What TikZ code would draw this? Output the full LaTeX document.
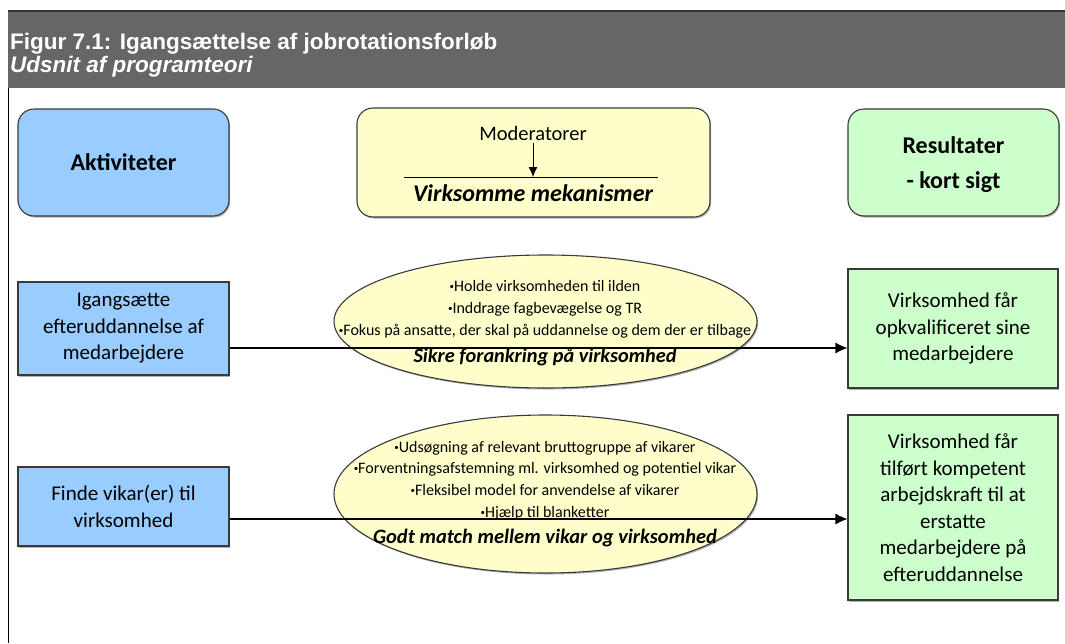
\documentclass[tikz,border=0pt]{standalone}
\usepackage{fontspec}
\setmainfont{Carlito}
\newfontfamily\hdrfont{Liberation Sans}
\usetikzlibrary{arrows.meta,shapes.geometric,shadows}
\definecolor{hdrgray}{HTML}{666666}
\definecolor{hdrline}{HTML}{333333}
\definecolor{actblue}{HTML}{99CCFF}
\definecolor{modyel}{HTML}{FFFFCC}
\definecolor{resgreen}{HTML}{CCFFCC}
\definecolor{edge}{HTML}{3A3A3A}
\tikzset{
  shad/.style={drop shadow={shadow xshift=1.2pt,shadow yshift=-1.5pt,opacity=0.3,fill=black}},
  topbox/.style={draw=edge,line width=1.1pt,rounded corners=16pt,inner sep=0pt,shad},
  rowbox/.style={draw=edge,line width=1.1pt,inner sep=0pt,shad},
  mechell/.style={ellipse,draw=edge,line width=1.1pt,fill=modyel,inner sep=0pt,shad},
  boxtxt/.style={align=center,font=\fontsize{21}{26.5}\selectfont},
  bulltxt/.style={align=center,font=\fontsize{16}{22}\selectfont},
  mechtitle/.style={font=\bfseries\itshape\fontsize{20.3}{24}\selectfont},
  arr/.style={line width=1.1pt,-{Latex[length=12pt,width=11pt]}},
}
\newcommand{\bul}{{\fontsize{9}{9}\selectfont\raisebox{2pt}{•}}}
\begin{document}
\begin{tikzpicture}[x=1pt,y=-1pt]
\useasboundingbox (0,0) rectangle (1065,643);
% header band
\fill[hdrgray] (8,11) rectangle (1065,88);
\draw[hdrline,line width=1.2pt] (8,11) -- (1065,11);
\draw[black,line width=0.8pt] (8,88) -- (8,643);
\node[anchor=base west,inner sep=0pt,text=white,font=\hdrfont\bfseries\fontsize{22.5}{26}\selectfont] (ttl) at (10,49) {Figur 7.1: Igangsættelse af jobrotationsforløb};
\node[anchor=base west,inner sep=0pt,text=white,font=\hdrfont\bfseries\itshape\fontsize{22.5}{26}\selectfont] (sub) at (10,72) {Udsnit af programteori};
% top boxes
\node[topbox,fill=actblue,minimum width=211pt,minimum height=107pt] (act) at (123.5,162.5) {};
\node[font=\bfseries\fontsize{24}{28}\selectfont] (actt) at (act.center) {Aktiviteter};
\node[topbox,fill=modyel,minimum width=353pt,minimum height=109pt] (mod) at (533.5,162.5) {};
\node[font=\fontsize{20.5}{24}\selectfont,inner sep=0pt] (modt) at (533,133) {Moderatorer};
\coordinate (ml) at (404,177);
\coordinate (mr) at (658,177);
\draw[black,line width=1pt] (ml) -- (mr);
\draw[line width=1pt,-{Latex[length=10pt,width=9pt]}] ([yshift=-3pt]modt.south) -- (modt.south |- ml);
\node[font=\bfseries\itshape\fontsize{24}{28}\selectfont,inner sep=0pt] (vm) at (533,193) {Virksomme mekanismer};
\node[topbox,fill=resgreen,minimum width=211pt,minimum height=107pt] (res) at (953.5,162.5) {};
\node[align=center,font=\bfseries\fontsize{24}{35}\selectfont] (rest) at (953.5,164.5) {Resultater\\- kort sigt};
% row 1
\node[rowbox,fill=actblue,minimum width=211pt,minimum height=93pt] (a1) at (123.5,328.5) {};
\node[boxtxt] (a1t) at (a1.center) {Igangsætte\\efteruddannelse af\\medarbejdere};
\node[mechell,minimum width=423pt,minimum height=133pt] (e1) at (545.5,321.5) {};
\node[rowbox,fill=resgreen,minimum width=210pt,minimum height=119pt] (r1) at (953,328.5) {};
\node[boxtxt] (r1t) at (r1.center) {Virksomhed får\\opkvalificeret sine\\medarbejdere};
\draw[arr] ([yshift=-19.5pt]a1.east) -- ([yshift=-19.5pt]a1.east -| r1.west);
\node[bulltxt] (e1b) at (545,309.5) {\bul Holde virksomheden til ilden\\\bul Inddrage fagbevægelse og TR\\\bul Fokus på ansatte, der skal på uddannelse og dem der er tilbage};
\node[mechtitle] (e1t) at (545,357) {Sikre forankring på virksomhed};
% row 2
\node[rowbox,fill=actblue,minimum width=211pt,minimum height=79pt] (a2) at (123.5,506.5) {};
\node[boxtxt] (a2t) at (a2.center) {Finde vikar(er) til\\virksomhed};
\node[mechell,minimum width=423pt,minimum height=158pt] (e2) at (545.5,494) {};
\node[rowbox,fill=resgreen,minimum width=210pt,minimum height=185pt] (r2) at (953,507.5) {};
\node[boxtxt] (r2t) at (r2.center) {Virksomhed får\\tilført kompetent\\arbejdskraft til at\\erstatte\\medarbejdere på\\efteruddannelse};
\node[bulltxt,font=\fontsize{16}{21.7}\selectfont] (e2b) at (545,480.5) {\bul Udsøgning af relevant bruttogruppe af vikarer\\\bul Forventningsafstemning ml. virksomhed og potentiel vikar\\\bul Fleksibel model for anvendelse af vikarer\\\bul Hjælp til blanketter};
\draw[arr] ([yshift=-12.5pt]a2.east) -- ([yshift=-12.5pt]a2.east -| r2.west);
\node[mechtitle,font=\bfseries\itshape\fontsize{20.5}{24}\selectfont] (e2t) at (545,538) {Godt match mellem vikar og virksomhed};
\end{tikzpicture}
\end{document}
